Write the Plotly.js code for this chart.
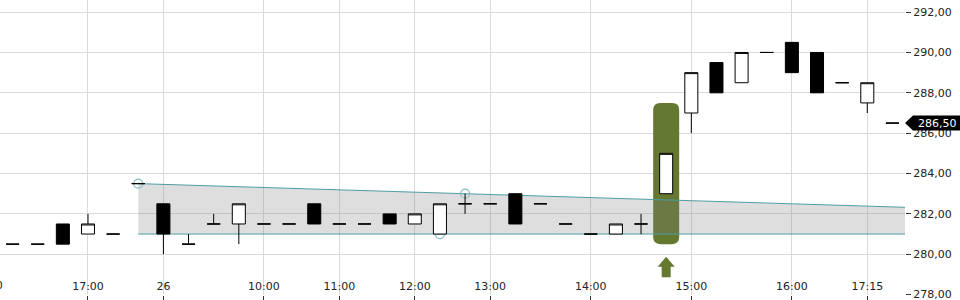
<!DOCTYPE html>
<html>
<head>
<meta charset="utf-8">
<script src="https://cdn.plot.ly/plotly-3.0.1.min.js"></script>
<style>
  html, body { margin: 0; padding: 0; background: #fff; }
  #chart { width: 960px; height: 300px; }
</style>
</head>
<body>
<div id="chart"></div>
<script>
// ---- data ----
const times = [
  "25 16:15", "25 16:30", "25 16:45", "25 17:00", "25 17:15", "25 17:30",
  "26 09:00", "26 09:15", "26 09:30", "26 09:45", "26 10:00", "26 10:20",
  "26 10:40", "26 11:00", "26 11:20", "26 11:40", "26 12:00", "26 12:20",
  "26 12:40", "26 13:00", "26 13:15", "26 13:30", "26 13:45", "26 14:00",
  "26 14:15", "26 14:30", "26 14:45", "26 15:00", "26 15:15", "26 15:30",
  "26 15:45", "26 16:00", "26 16:25", "26 16:50", "26 17:15", "26 17:30"
];
const open  = [280.5, 280.5, 281.5, 281.0, 281.0, 283.5, 282.5, 280.5, 281.5, 281.5, 281.5, 281.5,
               282.5, 281.5, 281.5, 282.0, 281.5, 281.0, 282.5, 282.5, 283.0, 282.5, 281.5, 281.0,
               281.0, 281.5, 283.0, 287.0, 289.5, 288.5, 290.0, 290.5, 290.0, 288.5, 287.5, 286.5];
const high  = [280.5, 280.5, 281.5, 282.0, 281.0, 283.5, 282.5, 281.0, 282.0, 282.5, 281.5, 281.5,
               282.5, 281.5, 281.5, 282.0, 282.0, 282.5, 283.0, 282.5, 283.0, 282.5, 281.5, 281.0,
               281.5, 282.0, 285.0, 289.0, 289.5, 290.0, 290.0, 290.5, 290.0, 288.5, 288.5, 286.5];
const low   = [280.5, 280.5, 280.5, 281.0, 281.0, 283.5, 280.0, 280.5, 281.5, 280.5, 281.5, 281.5,
               281.5, 281.5, 281.5, 281.5, 281.5, 281.0, 282.0, 282.5, 281.5, 282.5, 281.5, 281.0,
               281.0, 281.0, 283.0, 286.0, 288.0, 288.5, 290.0, 289.0, 288.0, 288.5, 287.0, 286.5];
const close = [280.5, 280.5, 280.5, 281.5, 281.0, 283.5, 281.0, 280.5, 281.5, 282.5, 281.5, 281.5,
               281.5, 281.5, 281.5, 281.5, 282.0, 282.5, 282.5, 282.5, 281.5, 282.5, 281.5, 281.0,
               281.5, 281.5, 285.0, 289.0, 288.0, 290.0, 290.0, 289.0, 288.0, 288.5, 288.5, 286.5];

// x-axis labels
const tickTimes = ["25 17:00", "26 09:00", "26 10:00", "26 11:00", "26 12:00", "26 13:00", "26 14:00", "26 15:00", "26 16:00", "26 17:15"];
const tickText  = ["17:00", "26", "10:00", "11:00", "12:00", "13:00", "14:00", "15:00", "16:00", "17:15"];
const leftCutLabel = "16:00";   // label of the slot just left of the plot

// trend channel (resistance line through two touch points, flat support)
const trendTimes = ["25 17:30", "26 12:40"];
const trendVals  = [283.5, 283.0];
const supportVal = 281.0;
const touchTimes = ["25 17:30", "26 12:40", "26 12:20"];
const touchVals  = [283.5, 283.0, 281.0];

// signal highlight
const signalTime = "26 14:45";
const signalLow  = 280.5;
const signalHigh = 287.5;

// ---- derived positions ----
const idx = t => times.indexOf(t);
const xs = times.map((_, i) => i);
const n = times.length;
const xEnd = n - 0.5;
const tx0 = idx(trendTimes[0]), tx1 = idx(trendTimes[1]);
const slope = (trendVals[1] - trendVals[0]) / (tx1 - tx0);
const trendEnd = trendVals[0] + slope * (xEnd - tx0);
const sig = idx(signalTime);
const last = close[n - 1];

const GREEN = 'rgb(100,120,48)';
const TEAL = '#4f9ea5';

const shapes = [];
// signal highlight (rounded rect), under the band
const ry = 0.35, r = 7, w = 13;
shapes.push({
  type: 'path', layer: 'between', xref: 'x', yref: 'y',
  xsizemode: 'pixel', xanchor: sig,
  path: `M ${-w},${signalLow + ry} L ${-w},${signalHigh - ry} Q ${-w},${signalHigh} ${-w + r},${signalHigh} ` +
        `L ${w - r},${signalHigh} Q ${w},${signalHigh} ${w},${signalHigh - ry} L ${w},${signalLow + ry} ` +
        `Q ${w},${signalLow} ${w - r},${signalLow} L ${-w + r},${signalLow} Q ${-w},${signalLow} ${-w},${signalLow + ry} Z`,
  fillcolor: GREEN, line: { width: 0 }
});
// arrow below signal
shapes.push({
  type: 'path', layer: 'between', xref: 'x', yref: 'y',
  xsizemode: 'pixel', ysizemode: 'pixel', xanchor: sig, yanchor: signalLow,
  path: 'M 0,-12.5 L 8.5,-22.5 L 4.5,-22.5 L 4.5,-33 L -4.5,-33 L -4.5,-22.5 L -8.5,-22.5 Z',
  fillcolor: GREEN, line: { width: 0 }
});
// channel band fill
shapes.push({
  type: 'path', layer: 'between', xref: 'x', yref: 'y',
  path: `M ${tx0},${supportVal} L ${tx0},${trendVals[0]} L ${xEnd},${trendEnd} L ${xEnd},${supportVal} Z`,
  fillcolor: 'rgba(128,128,128,0.26)', line: { width: 0 }
});
// channel lines
shapes.push({ type: 'line', layer: 'between', xref: 'x', yref: 'y', x0: tx0, y0: trendVals[0], x1: xEnd, y1: trendEnd, line: { color: TEAL, width: 1 } });
shapes.push({ type: 'line', layer: 'between', xref: 'x', yref: 'y', x0: tx0, y0: supportVal, x1: xEnd, y1: supportVal, line: { color: TEAL, width: 1 } });
// touch circles
touchTimes.forEach((t, k) => {
  shapes.push({
    type: 'circle', layer: 'between', xref: 'x', yref: 'y',
    xsizemode: 'pixel', ysizemode: 'pixel', xanchor: idx(t), yanchor: touchVals[k],
    x0: -4.5, x1: 4.5, y0: -4.5, y1: 4.5,
    line: { color: '#86bcc1', width: 1.2 }, fillcolor: 'rgba(0,0,0,0)'
  });
});
// last price tag
shapes.push({
  type: 'path', layer: 'above', xref: 'paper', yref: 'y',
  xsizemode: 'pixel', ysizemode: 'pixel', xanchor: 1, yanchor: last,
  path: 'M 0,0 L 8,7.5 L 60,7.5 L 60,-7.5 L 8,-7.5 Z',
  fillcolor: '#000', line: { width: 0 }
});

const trace = {
  type: 'candlestick',
  x: xs, open: open, high: high, low: low, close: close,
  increasing: { line: { color: '#000', width: 1 }, fillcolor: '#fff' },
  decreasing: { line: { color: '#000', width: 1 }, fillcolor: '#000' },
  whiskerwidth: 0,
  hoverinfo: 'skip',
  showlegend: false
};

const xRange = [-0.5, xEnd];
const tickPos = tickTimes.map(idx);

// empty carrier trace so the label axis (x2) is drawn
const labelCarrier = {
  type: 'scatter', mode: 'none', x: [], y: [],
  xaxis: 'x2', yaxis: 'y', hoverinfo: 'skip', showlegend: false
};

const layout = {
  width: 960, height: 300,
  margin: { l: 0, r: 55, t: 0, b: 5 },
  paper_bgcolor: '#fff', plot_bgcolor: '#fff',
  font: { family: 'DejaVu Sans, sans-serif', size: 11, color: '#222' },
  separators: ', ',
  showlegend: false,
  boxgap: 0.26,
  xaxis: {
    type: 'linear',
    range: xRange,
    tickmode: 'array',
    tickvals: tickPos,
    ticktext: tickText,
    ticks: 'outside', ticklen: 5, tickcolor: '#333',
    showticklabels: false,
    showgrid: true, gridcolor: '#dadada', gridwidth: 1,
    zeroline: false, showline: false,
    rangeslider: { visible: false },
    fixedrange: true
  },
  xaxis2: {
    type: 'linear',
    overlaying: 'x',
    anchor: 'free',
    position: 0.058,
    range: xRange,
    tickmode: 'array',
    tickvals: tickPos,
    ticktext: tickText,
    ticks: '',
    showticklabels: true,
    showgrid: false, zeroline: false, showline: false,
    fixedrange: true
  },
  yaxis: {
    side: 'right',
    range: [277.98, 292.6],
    tickmode: 'linear', tick0: 278, dtick: 2,
    tickformat: '.2f',
    ticks: 'outside', ticklen: 5, tickcolor: '#333',
    ticklabeloverflow: 'allow',
    showgrid: true, gridcolor: '#dadada', gridwidth: 1,
    zeroline: false, showline: false,
    fixedrange: true
  },
  shapes: shapes,
  annotations: [
    {
      xref: 'paper', yref: 'y', x: 1, y: last, xanchor: 'left', yanchor: 'middle',
      xshift: 11, text: last.toFixed(2).replace('.', ','), showarrow: false,
      font: { color: '#fff', size: 11, family: 'DejaVu Sans, sans-serif' }
    },
    {
      xref: 'paper', yref: 'paper', x: (-1 + 0.5) / n, y: 0, xanchor: 'center', yanchor: 'bottom',
      yshift: 1, text: leftCutLabel, showarrow: false,
      font: { color: '#222', size: 11, family: 'DejaVu Sans, sans-serif' }
    }
  ]
};

Plotly.newPlot('chart', [trace, labelCarrier], layout, { displayModeBar: false, staticPlot: true });
</script>
</body>
</html>
